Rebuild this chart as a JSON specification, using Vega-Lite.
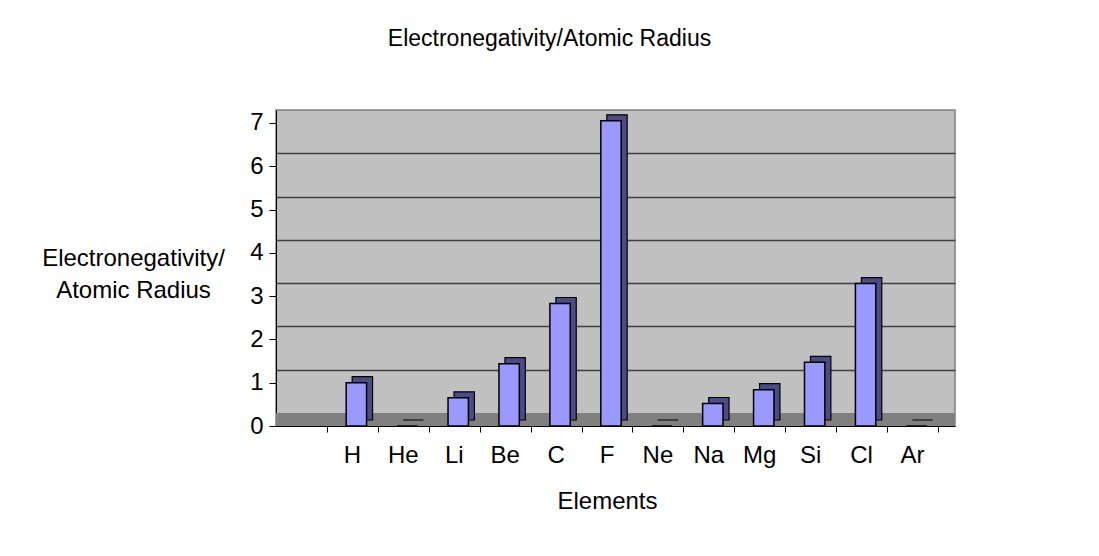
{
  "$schema": "https://vega.github.io/schema/vega-lite/v6.json",
  "autosize": "none",
  "width": 679,
  "height": 316,
  "padding": {"left": 276, "top": 110, "right": 144, "bottom": 130},
  "background": "white",
  "config": {
    "font": "Liberation Sans",
    "view": {"fill": "#C0C0C0", "stroke": "#808080", "strokeWidth": 1.5}
  },
  "title": {
    "text": "Electronegativity/Atomic Radius",
    "fontSize": 23,
    "fontWeight": "normal",
    "font": "Liberation Sans",
    "color": "black",
    "anchor": "middle",
    "frame": "group",
    "dx": -66,
    "offset": 59
  },
  "data": {
    "values": [
      {"el": "H", "v": 1.0},
      {"el": "He", "v": 0},
      {"el": "Li", "v": 0.65},
      {"el": "Be", "v": 1.44},
      {"el": "C", "v": 2.83},
      {"el": "F", "v": 7.05},
      {"el": "Ne", "v": 0},
      {"el": "Na", "v": 0.52},
      {"el": "Mg", "v": 0.84},
      {"el": "Si", "v": 1.47},
      {"el": "Cl", "v": 3.29},
      {"el": "Ar", "v": 0}
    ]
  },
  "resolve": {"axis": {"x": "independent", "y": "independent"}},
  "layer": [
    {
      "mark": {"type": "rect", "color": "#808080"},
      "encoding": {
        "y": {
          "datum": 0,
          "type": "quantitative",
          "scale": {"domain": [0, 7.3], "nice": false},
          "axis": {
            "orient": "right",
            "values": [1.3, 2.3, 3.3, 4.3, 5.3, 6.3],
            "grid": true,
            "gridColor": "#404040",
            "gridWidth": 1.5,
            "gridOpacity": 1,
            "labels": false,
            "ticks": false,
            "domain": false,
            "title": null
          }
        },
        "y2": {"datum": 0.3}
      }
    },
    {
      "mark": {"type": "bar", "color": "#4B4B85", "stroke": "black", "strokeWidth": 1.2, "xOffset": 10, "yOffset": -6},
      "encoding": {
        "x": {
          "field": "el",
          "type": "nominal",
          "axis": {
            "orient": "bottom",
            "labels": false,
            "title": null,
            "domain": false,
            "bandPosition": 1,
            "tickOffset": 15.3,
            "tickSize": 6,
            "tickColor": "black"
          }
        },
        "y": {"field": "v", "type": "quantitative", "axis": null}
      }
    },
    {
      "mark": {"type": "bar", "color": "#9999FF", "stroke": "black", "strokeWidth": 1.5, "xOffset": 4},
      "encoding": {
        "x": {
          "field": "el",
          "type": "nominal",
          "sort": null,
          "scale": {
            "domain": [" ", "H", "He", "Li", "Be", "C", "F", "Ne", "Na", "Mg", "Si", "Cl", "Ar"],
            "paddingInner": 0.6,
            "paddingOuter": 0.467,
            "align": 0.321
          },
          "axis": {
            "orient": "bottom",
            "title": "Elements",
            "titleFontSize": 24,
            "titleFontWeight": "normal",
            "titleColor": "black",
            "titleX": 331,
            "titlePadding": 22,
            "labelAngle": 0,
            "labelFontSize": 24,
            "labelColor": "black",
            "labelPadding": 11,
            "tickSize": 6,
            "tickOpacity": 0,
            "domainColor": "black",
            "domainWidth": 1
          }
        },
        "y": {
          "field": "v",
          "type": "quantitative",
          "axis": {
            "orient": "left",
            "values": [0, 1, 2, 3, 4, 5, 6, 7],
            "grid": false,
            "labelFontSize": 24,
            "labelColor": "black",
            "labelPadding": 6,
            "tickColor": "black",
            "tickSize": 7,
            "domainColor": "black",
            "title": ["Electronegativity/", "Atomic Radius"],
            "titleAngle": 0,
            "titleAlign": "center",
            "titleBaseline": "middle",
            "titleFontSize": 24,
            "titleFontWeight": "normal",
            "titleColor": "black",
            "titleLineHeight": 32,
            "titleX": -143,
            "titleY": 148
          }
        }
      }
    }
  ]
}
